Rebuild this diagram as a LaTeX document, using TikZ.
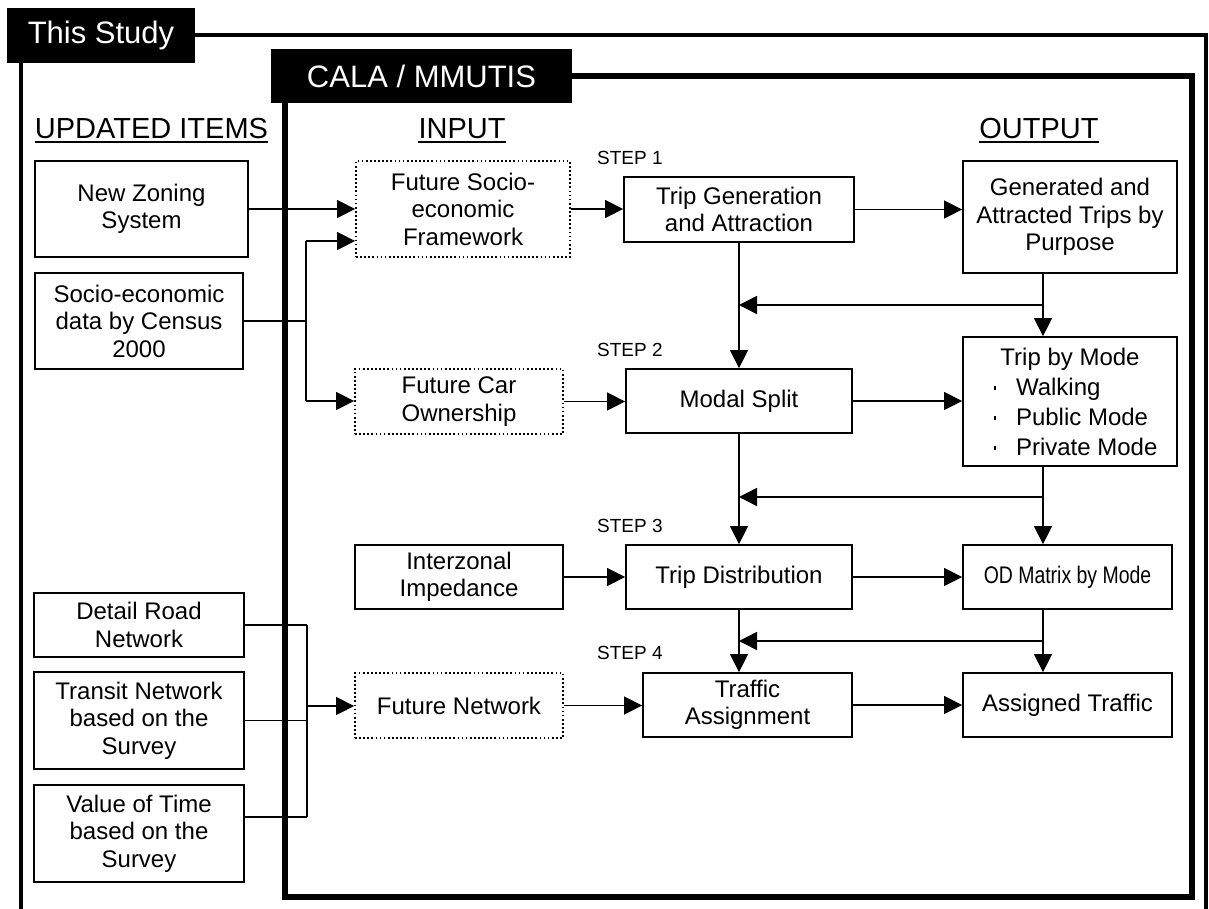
\documentclass[tikz,border=0pt]{standalone}
\usepackage{fontspec}
\setmainfont{Liberation Sans}
\newfontfamily\narrowfont[FakeStretch=0.81]{Liberation Sans}
\usetikzlibrary{arrows.meta}
\newcommand\tbul{\rule[5pt]{1.5pt}{4pt}}
\newcommand\tbitem[1]{\makebox[172pt][l]{\hspace{10pt}\tbul\hspace{20.5pt}#1}}
\begin{document}
\begin{tikzpicture}[x=1pt,y=-1pt,
  box/.style={draw, line width=1.8pt, fill=white, align=center, inner sep=0pt,
    font=\fontsize{24}{27.5}\selectfont},
  dotbox/.style={box, dash pattern=on 1.7pt off 2.4pt},
  conn/.style={line width=1.5pt},
  arr/.style={conn, -{Triangle[length=18pt,width=18pt]}},
  titlebox/.style={fill=black, text=white, inner sep=0pt, font=\fontsize{31}{36}\selectfont},
  head/.style={inner sep=0pt, anchor=base, font=\fontsize{29}{34}\selectfont},
  steplbl/.style={inner sep=0pt, anchor=west, font=\fontsize{19}{22}\selectfont},
]
\useasboundingbox (0,0) rectangle (1209,909);
\fill[white] (0,0) rectangle (1209,909);

% frames
\draw[line width=4.5pt] (21,945) -- (21,35) -- (1206,35) -- (1206,945);
\draw[line width=5.5pt] (285,76) rectangle (1192,897);
\node[titlebox, minimum width=188pt, minimum height=55pt] (ts) at (101,35.5) {This Study};
\node[titlebox, minimum width=301pt, minimum height=54pt] (cala) at (421.5,76) {CALA / MMUTIS};

% headings
\node[head] (hu) at (151.5,139) {UPDATED ITEMS};
\node[head] (hi) at (462,139) {INPUT};
\node[head] (ho) at (1039,139) {OUTPUT};
\foreach \h in {hu,hi,ho}
  \draw[line width=2pt] ([yshift=-3pt]\h.base west) -- ([yshift=-3pt]\h.base east);

% step labels
\node[steplbl] (s1) at (597,158) {STEP 1};
\node[steplbl] (s2) at (597,350) {STEP 2};
\node[steplbl] (s3) at (597,526) {STEP 3};
\node[steplbl] (s4) at (597,653) {STEP 4};

% updated items
\node[box, minimum width=213pt, minimum height=96pt] (nz) at (141.5,209) {New Zoning\\System};
\node[box, minimum width=208pt, minimum height=96pt] (se) at (139,321) {Socio-economic\\data by Census\\2000};
\node[box, minimum width=210pt, minimum height=64pt] (drn) at (139,625) {Detail Road\\Network};
\node[box, minimum width=210pt, minimum height=97pt] (tn) at (139,720.5) {Transit Network\\based on the\\Survey};
\node[box, minimum width=210pt, minimum height=97pt] (vot) at (139,833.5) {Value of Time\\based on the\\Survey};

% input
\node[dotbox, minimum width=214pt, minimum height=96pt] (fs) at (463,209) {Future Socio-\\economic\\Framework};
\node[dotbox, minimum width=208pt, minimum height=65pt] (fc) at (459,401.5) {Future Car\\Ownership};
\node[box, minimum width=208pt, minimum height=64pt] (iz) at (459,577) {Interzonal\\Impedance};
\node[dotbox, minimum width=208pt, minimum height=65pt] (fn) at (459,705.5) {Future Network};

% steps
\node[box, minimum width=230pt, minimum height=65pt] (tg) at (739,209.5) {Trip Generation\\and Attraction};
\node[box, minimum width=226pt, minimum height=64pt] (ms) at (739,401) {Modal Split};
\node[box, minimum width=226pt, minimum height=64pt] (td) at (739,577) {Trip Distribution};
\node[box, minimum width=209pt, minimum height=64pt] (ta) at (747.5,705) {Traffic\\Assignment};

% output
\node[box, minimum width=214pt, minimum height=112pt] (gen) at (1070,217) {Generated and\\Attracted Trips by\\Purpose};
\node[box, minimum width=214pt, minimum height=129pt, font=\fontsize{24}{30}\selectfont] (tbm) at (1070,401.5)
  {Trip by Mode\\\tbitem{Walking}\\\tbitem{Public Mode}\\\tbitem{Private Mode}};
\node[box, minimum width=209pt, minimum height=64pt, font=\fontsize{24}{27.5}\narrowfont] (od) at (1067.5,577) {OD Matrix by Mode};
\node[box, minimum width=209pt, minimum height=64pt] (at) at (1067.5,705) {Assigned Traffic};

% helper coordinates
\coordinate (cL) at (739,0);
\coordinate (cR) at (1043,0);
\coordinate (j1) at (1043,305);
\coordinate (j2) at (1043,497);
\coordinate (j3) at (1043,641);
\coordinate (b1) at (306,241);
\coordinate (b2) at (306,401);
\coordinate (bs) at (306,321);
\coordinate (c1) at (307,625);
\coordinate (c2) at (307,817);
\coordinate (c3) at (307,706);

% left connectors
\draw[arr] (nz.east) -- (fs.west);
\draw[conn] (se.east) -- (bs);
\draw[conn] (b1) -- (b2);
\draw[arr] (b1) -- (b1 -| fs.west);
\draw[arr] (b2) -- (b2 -| fc.west);
\draw[conn] (drn.east) -- (c1);
\draw[conn] (tn.east) -- (tn.east -| c1);
\draw[conn] (vot.east |- c2) -- (c2);
\draw[conn] (c1) -- (c2);
\draw[arr] (c3) -- (c3 -| fn.west);

% horizontal flow
\draw[arr] (fs.east) -- (fs.east -| tg.west);
\draw[arr] (tg.east) -- (tg.east -| gen.west);
\draw[arr] (fc.east) -- (fc.east -| ms.west);
\draw[arr] (ms.east) -- (ms.east -| tbm.west);
\draw[arr] (iz.east) -- (td.west);
\draw[arr] (td.east) -- (td.east -| od.west);
\draw[arr] (fn.east) -- (fn.east -| ta.west);
\draw[arr] (ta.east) -- (ta.east -| at.west);

% vertical flow
\draw[arr] (tg.south) -- (tg.south |- ms.north);
\draw[arr] (gen.south -| cR) -- (tbm.north -| cR);
\draw[arr] (j1) -- (j1 -| cL);
\draw[arr] (ms.south) -- (td.north);
\draw[arr] (tbm.south -| cR) -- (od.north -| cR);
\draw[arr] (j2) -- (j2 -| cL);
\draw[arr] (td.south) -- (td.south |- ta.north);
\draw[arr] (od.south -| cR) -- (at.north -| cR);
\draw[arr] (j3) -- (j3 -| cL);
\end{tikzpicture}
\end{document}
